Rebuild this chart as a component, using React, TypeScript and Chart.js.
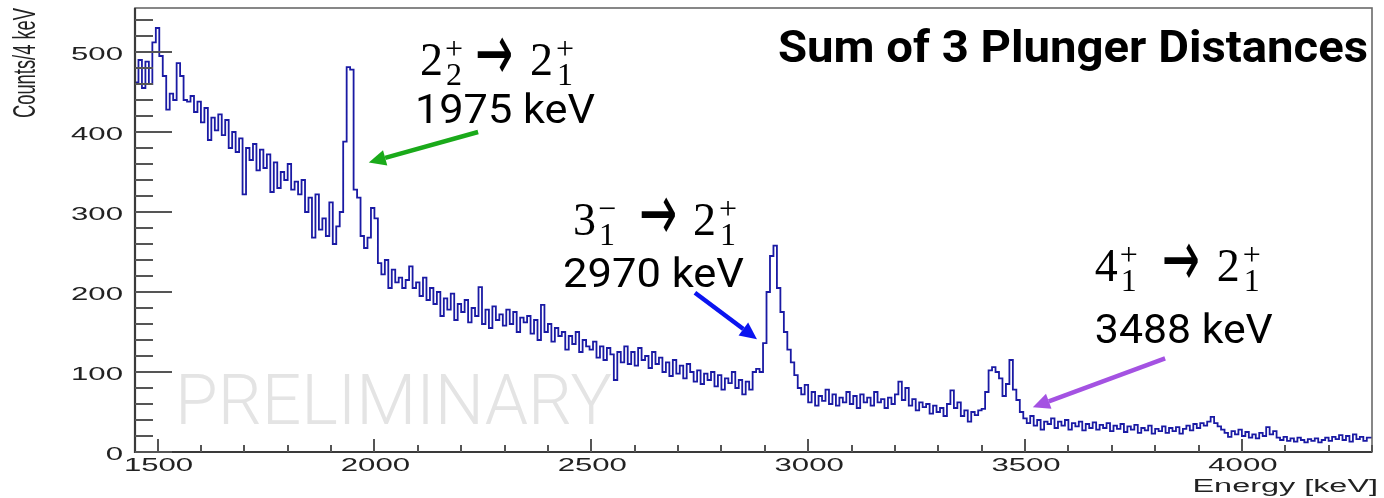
import React, { useEffect, useRef } from 'react';
import { Chart, registerables } from 'chart.js';

Chart.register(...registerables);

// ---------- Histogram data (counts per bin) ----------
const BIN_START_KEV = 1448;
const BIN_WIDTH_KEV = 8;

const counts1448 = [498, 462, 490, 455, 488, 460, 512, 530, 495, 470, 428, 448, 440, 486, 470, 440, 438, 445, 425, 438, 412, 430, 390, 418, 402];
const counts1648 = [422, 396, 415, 380, 400, 375, 392, 322, 380, 365, 385, 352, 378, 355, 372, 325, 362, 330, 350, 340, 360, 328, 338, 322, 340];
const counts1848 = [300, 318, 268, 322, 278, 292, 270, 312, 260, 282, 300, 388, 481, 478, 328, 318, 270, 255, 268, 305, 292, 236, 222, 240, 205];
const counts2048 = [228, 212, 218, 205, 215, 232, 205, 212, 195, 218, 190, 205, 185, 200, 170, 192, 178, 198, 165, 185, 175, 190, 162, 180, 170];
const counts2248 = [206, 160, 178, 155, 182, 165, 172, 158, 178, 160, 175, 150, 168, 162, 170, 148, 165, 140, 184, 150, 160, 138, 155, 145, 150];
const counts2448 = [128, 145, 135, 150, 125, 140, 132, 128, 138, 118, 132, 115, 130, 122, 90, 125, 112, 132, 110, 125, 108, 130, 115, 120, 105];
const counts2648 = [125, 110, 118, 100, 112, 95, 115, 98, 108, 92, 110, 100, 88, 102, 85, 98, 90, 100, 82, 96, 78, 92, 86, 100, 80];
const counts2848 = [90, 72, 88, 78, 100, 104, 100, 136, 200, 245, 258, 205, 175, 150, 128, 112, 96, 80, 72, 84, 62, 75, 58, 70, 64];
const counts3048 = [78, 60, 72, 58, 68, 62, 75, 60, 70, 55, 72, 62, 68, 58, 75, 62, 66, 55, 68, 60, 72, 88, 65, 80, 58];
const counts3248 = [66, 52, 62, 56, 60, 48, 58, 50, 55, 45, 60, 77, 55, 62, 45, 52, 38, 50, 46, 52, 54, 75, 102, 106, 100];
const counts3448 = [92, 70, 85, 115, 78, 65, 50, 42, 36, 45, 33, 40, 28, 38, 35, 42, 30, 38, 33, 40, 28, 36, 32, 38, 27];
const counts3648 = [35, 30, 37, 28, 34, 30, 36, 26, 33, 29, 35, 25, 32, 28, 34, 24, 30, 27, 33, 23, 29, 26, 32, 24, 30];
const counts3848 = [26, 31, 23, 29, 33, 27, 35, 30, 36, 33, 38, 44, 36, 32, 28, 24, 19, 26, 22, 28, 20, 25, 18, 22, 17];
const counts4048 = [24, 20, 31, 22, 26, 18, 15, 19, 14, 17, 13, 18, 15, 12, 16, 14, 17, 12, 15, 18, 14, 19, 16, 21, 15];
const counts4248 = [20, 13, 22, 16, 19, 14, 18];

// ---------- Axes ----------
const X_MIN = 1448;
const X_MAX = 4300;
const Y_MIN = 0;
const Y_MAX = 555;
const xTickValues = [1500, 2000, 2500, 3000, 3500, 4000];
const xTickLabels = ['1500', '2000', '2500', '3000', '3500', '4000'];
const xMinorStep = 100;
const yTickValues = [0, 100, 200, 300, 400, 500];
const yTickLabels = ['0', '100', '200', '300', '400', '500'];
const yMinorStep = 20;
const xAxisTitle = 'Energy [keV]';
const yAxisTitle = 'Counts/4 keV';
const chartTitle = 'Sum of 3 Plunger Distances';
const watermark = 'PRELIMINARY';

// ---------- Annotations (data coordinates) ----------
const arrows = [
  { from: [2239, 400], to: [1987, 362], color: '#1aaa1a' },
  { from: [2739, 199], to: [2882, 141], color: '#0a14f0' },
  { from: [3823, 117], to: [3518, 56], color: '#a452e2' },
];

const allCounts = [
  ...counts1448, ...counts1648, ...counts1848, ...counts2048, ...counts2248,
  ...counts2448, ...counts2648, ...counts2848, ...counts3048, ...counts3248,
  ...counts3448, ...counts3648, ...counts3848, ...counts4048, ...counts4248,
];

const ROOT_FONT = 'Liberation Sans, Arial, sans-serif';
const ROOT_SX = 1.73;
const MATH_FONT = 'Liberation Serif, Times New Roman, serif';
const SLIDE_FONT = 'Roboto, Inter, sans-serif';

function drawText(
  ctx: CanvasRenderingContext2D,
  text: string,
  x: number,
  y: number,
  font: string,
  color: string,
  align: CanvasTextAlign,
  opt: { sx?: number; sy?: number; width?: number; baseline?: CanvasTextBaseline } = {}
) {
  ctx.save();
  ctx.font = font;
  ctx.fillStyle = color;
  ctx.textBaseline = opt.baseline ?? 'alphabetic';
  ctx.textAlign = align;
  let sx = opt.sx ?? 1;
  if (opt.width) sx = opt.width / ctx.measureText(text).width;
  ctx.translate(x, y);
  ctx.scale(sx, opt.sy ?? 1);
  ctx.fillText(text, 0, 0);
  ctx.restore();
}

function drawArrow(ctx: CanvasRenderingContext2D, x1: number, y1: number, x2: number, y2: number, color: string) {
  const ang = Math.atan2(y2 - y1, x2 - x1);
  const headLen = 17;
  const headW = 8;
  const bx = x2 - headLen * Math.cos(ang);
  const by = y2 - headLen * Math.sin(ang);
  ctx.save();
  ctx.strokeStyle = color;
  ctx.fillStyle = color;
  ctx.lineWidth = 4.5;
  ctx.lineCap = 'butt';
  ctx.beginPath();
  ctx.moveTo(x1, y1);
  ctx.lineTo(bx, by);
  ctx.stroke();
  ctx.beginPath();
  ctx.moveTo(x2, y2);
  ctx.lineTo(bx + headW * Math.sin(ang), by - headW * Math.cos(ang));
  ctx.lineTo(bx - headW * Math.sin(ang), by + headW * Math.cos(ang));
  ctx.closePath();
  ctx.fill();
  ctx.restore();
}

type Part = { t: string; dx: number; dy: number; kind: 'base' | 'script' | 'arrow' };

function drawTransition(ctx: CanvasRenderingContext2D, x: number, y: number, parts: Part[]) {
  for (const p of parts) {
    if (p.kind === 'base') drawText(ctx, p.t, x + p.dx, y + p.dy, `46px ${MATH_FONT}`, '#000', 'left');
    else if (p.kind === 'script') drawText(ctx, p.t, x + p.dx, y + p.dy, `32px ${MATH_FONT}`, '#000', 'left');
    else
      drawText(ctx, p.t, x + p.dx, y + p.dy, `46px DejaVu Sans, sans-serif`, '#000', 'left', {
        width: 38,
        sy: 1.75,
        baseline: 'middle',
      });
  }
}

function transitionParts(a: string, aSup: string, aSub: string, b: string, bSup: string, bSub: string, arrowDx: number, bDx: number): Part[] {
  return [
    { t: a, dx: 0, dy: 0, kind: 'base' },
    { t: aSup, dx: 25, dy: -16, kind: 'script' },
    { t: aSub, dx: 26, dy: 10, kind: 'script' },
    { t: '→', dx: arrowDx, dy: -16, kind: 'arrow' },
    { t: b, dx: bDx, dy: 0, kind: 'base' },
    { t: bSup, dx: bDx + 26, dy: -16, kind: 'script' },
    { t: bSub, dx: bDx + 27, dy: 10, kind: 'script' },
  ];
}

const rootStylePlugin = {
  id: 'rootStyle',
  beforeDatasetsDraw(chart: any) {
    const ctx: CanvasRenderingContext2D = chart.ctx;
    drawText(ctx, watermark, 175, 424, `300 70px ${SLIDE_FONT}`, '#e4e4e4', 'left', { width: 437 });
  },
  afterDraw(chart: any) {
    const ctx: CanvasRenderingContext2D = chart.ctx;
    const xs = chart.scales.x;
    const ys = chart.scales.y;
    const { left, right, top, bottom } = chart.chartArea;

    // frame
    ctx.save();
    ctx.strokeStyle = '#6a6a6a';
    ctx.lineWidth = 1.6;
    ctx.strokeRect(left, top, right - left, bottom - top);
    ctx.strokeStyle = '#3a3a3a';
    ctx.lineWidth = 2.2;
    ctx.beginPath();
    ctx.moveTo(left, top);
    ctx.lineTo(left, bottom);
    ctx.lineTo(right, bottom);
    ctx.stroke();

    // y ticks (inside the frame)
    ctx.strokeStyle = '#555';
    ctx.lineWidth = 2;
    for (let v = Y_MIN; v <= Y_MAX; v += yMinorStep) {
      const py = Math.round(ys.getPixelForValue(v));
      const major = yTickValues.includes(v);
      const len = major ? 37 : 18;
      ctx.beginPath();
      ctx.moveTo(left, py);
      ctx.lineTo(left + len, py);
      ctx.stroke();
    }
    // x ticks
    for (let v = 1500; v <= X_MAX; v += xMinorStep) {
      const px = Math.round(xs.getPixelForValue(v));
      const major = xTickValues.includes(v);
      const len = major ? 13 : 7;
      ctx.beginPath();
      ctx.moveTo(px, bottom);
      ctx.lineTo(px, bottom - len);
      ctx.stroke();
    }
    ctx.restore();

    // tick labels
    yTickValues.forEach((v, i) => {
      const py = ys.getPixelForValue(v);
      drawText(ctx, yTickLabels[i], left - 12, py + 8, `18px ${ROOT_FONT}`, '#222', 'right', { sx: ROOT_SX });
    });
    xTickValues.forEach((v, i) => {
      const px = xs.getPixelForValue(v);
      drawText(ctx, xTickLabels[i], px + 1, bottom + 19, `18px ${ROOT_FONT}`, '#222', 'center', { sx: ROOT_SX });
    });

    // axis titles
    drawText(ctx, xAxisTitle, 1378, 492, `18px ${ROOT_FONT}`, '#222', 'right', { sx: 1.8 });
    ctx.save();
    ctx.font = `18px ${ROOT_FONT}`;
    ctx.fillStyle = '#222';
    ctx.textAlign = 'right';
    ctx.textBaseline = 'alphabetic';
    ctx.translate(35, 8);
    ctx.scale(ROOT_SX, 1);
    ctx.rotate(-Math.PI / 2);
    const w = ctx.measureText(yAxisTitle).width;
    ctx.scale(110 / w, 1);
    ctx.fillText(yAxisTitle, 0, 0);
    ctx.restore();

    // title
    drawText(ctx, chartTitle, 778, 62, `bold 44px ${SLIDE_FONT}`, '#000', 'left', { width: 590 });

    // transitions
    const at = (kev: number, c: number) => [xs.getPixelForValue(kev), ys.getPixelForValue(c)];
    let [ax, ay] = at(2105, 471);
    drawTransition(ctx, ax, ay, transitionParts('2', '+', '2', '2', '+', '1', 55, 110));
    drawText(ctx, '1975 keV', ax - 5, ay + 48, `41px ${SLIDE_FONT}`, '#000', 'left', { width: 180 });

    [ax, ay] = at(2458, 271);
    drawTransition(ctx, ax, ay, transitionParts('3', '−', '1', '2', '+', '1', 66, 120));
    drawText(ctx, '2970 keV', ax - 10, ay + 52, `41px ${SLIDE_FONT}`, '#000', 'left', { width: 181 });

    [ax, ay] = at(3661, 214);
    drawTransition(ctx, ax, ay, transitionParts('4', '+', '1', '2', '+', '1', 67, 122));
    drawText(ctx, '3488 keV', ax, ay + 62, `41px ${SLIDE_FONT}`, '#000', 'left', { width: 178 });

    // arrows
    for (const a of arrows) {
      const [x1, y1] = at(a.from[0], a.from[1]);
      const [x2, y2] = at(a.to[0], a.to[1]);
      drawArrow(ctx, x1, y1, x2, y2, a.color);
    }
  },
};

export default function App() {
  const canvasRef = useRef<HTMLCanvasElement | null>(null);

  useEffect(() => {
    if (!canvasRef.current) return;
    const points = allCounts.map((c, i) => ({ x: BIN_START_KEV + i * BIN_WIDTH_KEV, y: c }));
    points.push({ x: BIN_START_KEV + allCounts.length * BIN_WIDTH_KEV, y: allCounts[allCounts.length - 1] });

    const chart = new Chart(canvasRef.current, {
      type: 'line',
      data: {
        datasets: [
          {
            data: points,
            stepped: 'after',
            borderColor: '#1a1aa4',
            borderWidth: 1.8,
            pointRadius: 0,
            fill: false,
            tension: 0,
          } as any,
        ],
      },
      options: {
        animation: false,
        responsive: false,
        events: [],
        layout: { padding: { left: 135, right: 12, top: 8, bottom: 46 } },
        plugins: { legend: { display: false }, tooltip: { enabled: false }, title: { display: false } },
        scales: {
          x: { type: 'linear', min: X_MIN, max: X_MAX, display: false },
          y: { type: 'linear', min: Y_MIN, max: Y_MAX, display: false },
        },
      },
      plugins: [rootStylePlugin],
    });
    return () => chart.destroy();
  }, []);

  return (
    <div style={{ position: 'absolute', left: 0, top: 0, width: 1384, height: 498, background: '#fff' }}>
      <canvas ref={canvasRef} width={1384} height={498} style={{ display: 'block' }} />
    </div>
  );
}
